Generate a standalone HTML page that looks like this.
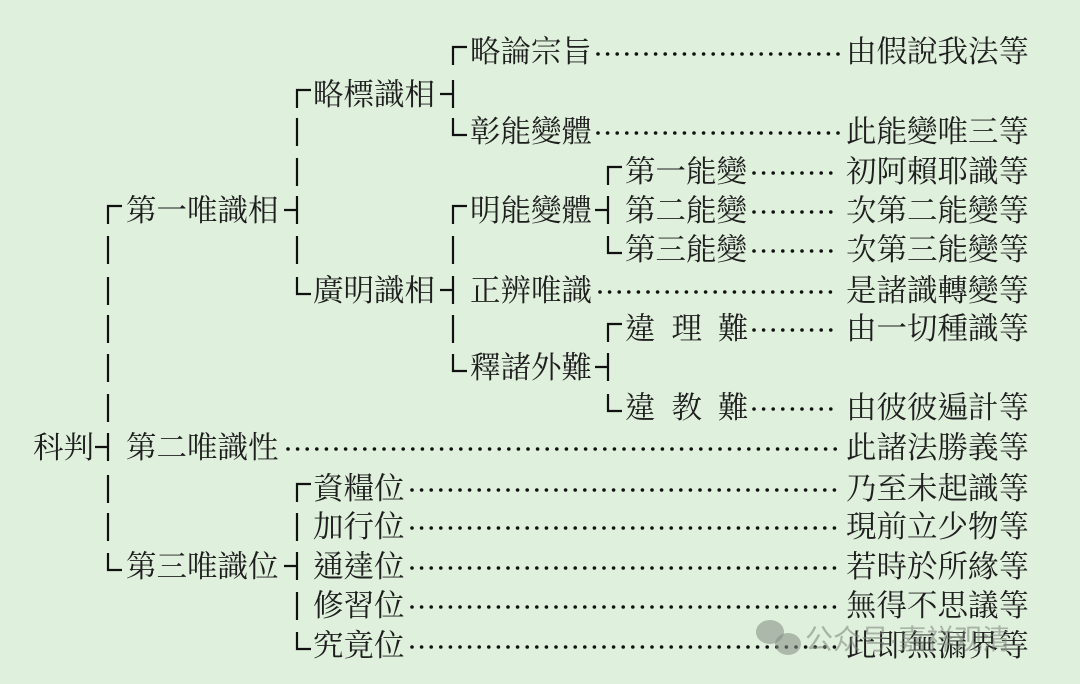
<!DOCTYPE html>
<html><head><meta charset="utf-8"><style>
html,body{margin:0;padding:0}
body{width:1080px;height:684px;background:#dff0dc;position:relative;overflow:hidden;font-family:"Liberation Serif","Noto Serif CJK TC","Noto Serif CJK SC",serif;color:#1e1e1e}
.t{position:absolute;font-size:30.5px;line-height:40px;white-space:nowrap}
svg{position:absolute;left:0;top:0}
.wm{position:absolute;left:805px;top:620px;font-family:"Liberation Sans","Noto Sans CJK SC",sans-serif;font-size:28px;color:rgba(120,130,120,0.55);line-height:40px}
</style></head><body>
<svg width="1080" height="684">
<g stroke="#111" stroke-width="2.2" fill="none">
<path d="M122 206 H108 V224 M108 236 V264 M108 277 V305 M108 315 V343 M108 354 V382 M108 394 V422 M95 447 H108 M108 433 V461 M108 475 V503 M108 513 V541 M108 553 V570 H122"/>
<path d="M311 90 H297 V108 M297 118 V146 M297 158 V186 M284 210 H297 M297 196 V224 M297 236 V264 M297 277 V294 H311"/>
<path d="M311 484 H297 V502 M297 513 V541 M284 566 H297 M297 552 V580 M297 592 V620 M297 632 V649 H311"/>
<path d="M467 47 H453 V65 M440 94 H453 M453 80 V108 M453 118 V135 H467"/>
<path d="M467 206 H453 V224 M453 236 V264 M440 290 H453 M453 276 V304 M453 315 V343 M453 354 V371 H467"/>
<path d="M622 167 H608 V185 M595 210 H608 M608 196 V224 M608 236 V253 H622"/>
<path d="M622 324 H608 V342 M595 367 H608 M608 353 V381 M608 394 V411 H622"/>
</g>
<g stroke="#111" stroke-width="3.6" stroke-linecap="round" stroke-dasharray="0 9.6">
<path d="M598 54 H840 M598 133 H840 M754 173 H840 M754 212 H840 M754 251 H840 M600 292 H840 M754 330 H840 M754 409 H840 M288 449 H840 M412 490 H840 M412 528 H840 M412 568 H840 M412 607 H840 M412 647 H840"/>
</g>
<g fill="rgba(130,140,130,0.55)">
<ellipse cx="770" cy="632" rx="14" ry="12"/><ellipse cx="788" cy="644" rx="13" ry="11"/>
</g>
</svg>
<div class="t" style="left:33px;top:428px">科判</div>
<div class="t" style="left:126px;top:191px">第一唯識相</div>
<div class="t" style="left:126px;top:428px">第二唯識性</div>
<div class="t" style="left:126px;top:547px">第三唯識位</div>
<div class="t" style="left:313px;top:75px">略標識相</div>
<div class="t" style="left:313px;top:271px">廣明識相</div>
<div class="t" style="left:313px;top:469px">資糧位</div>
<div class="t" style="left:313px;top:507px">加行位</div>
<div class="t" style="left:313px;top:547px">通達位</div>
<div class="t" style="left:313px;top:586px">修習位</div>
<div class="t" style="left:313px;top:626px">究竟位</div>
<div class="t" style="left:470px;top:32px">略論宗旨</div>
<div class="t" style="left:470px;top:112px">彰能變體</div>
<div class="t" style="left:470px;top:191px">明能變體</div>
<div class="t" style="left:470px;top:271px">正辨唯識</div>
<div class="t" style="left:470px;top:348px">釋諸外難</div>
<div class="t" style="left:625px;top:152px">第一能變</div>
<div class="t" style="left:625px;top:191px">第二能變</div>
<div class="t" style="left:625px;top:230px">第三能變</div>
<div class="t" style="left:625px;top:309px;letter-spacing:16px">違理難</div>
<div class="t" style="left:625px;top:388px;letter-spacing:16px">違教難</div>
<div class="t" style="left:846px;top:32px">由假說我法等</div>
<div class="t" style="left:846px;top:112px">此能變唯三等</div>
<div class="t" style="left:846px;top:152px">初阿賴耶識等</div>
<div class="t" style="left:846px;top:191px">次第二能變等</div>
<div class="t" style="left:846px;top:230px">次第三能變等</div>
<div class="t" style="left:846px;top:271px">是諸識轉變等</div>
<div class="t" style="left:846px;top:309px">由一切種識等</div>
<div class="t" style="left:846px;top:388px">由彼彼遍計等</div>
<div class="t" style="left:846px;top:428px">此諸法勝義等</div>
<div class="t" style="left:846px;top:469px">乃至未起識等</div>
<div class="t" style="left:846px;top:507px">現前立少物等</div>
<div class="t" style="left:846px;top:547px">若時於所緣等</div>
<div class="t" style="left:846px;top:586px">無得不思議等</div>
<div class="t" style="left:846px;top:626px">此即無漏界等</div>
<div class="wm">公众号·嘉祥观清</div>
</body></html>
